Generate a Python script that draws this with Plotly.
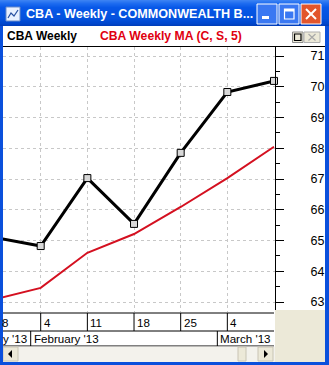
import plotly.graph_objects as go

W, H = 329, 365

# ---- data ----
weeks = ["2013-01-28", "2013-02-04", "2013-02-11", "2013-02-18",
         "2013-02-25", "2013-03-04", "2013-03-11"]
close = [65.10, 64.82, 67.03, 65.54, 67.85, 69.83, 70.19]
ma5 = [63.08, 63.46, 64.60, 65.21, 66.09, 67.03, 68.05]
# labels as visible in the (scrolled) window
week_labels = ["8", "4", "11", "18", "25", "4"]
month_labels = ["y '13", "February '13", "March '13"]
month_breaks = ["2013-02-02 12:00", "2013-03-02 12:00"]
title_text = "CBA - Weekly - COMMONWEALTH B..."
series_name = "CBA Weekly"
ma_name = "CBA Weekly MA (C, S, 5)"

FONT = "Liberation Sans, Arial, sans-serif"


def PX(x):
    return x / W


def PY(y):
    return 1 - y / H


fig = go.Figure()
fig.add_trace(go.Scatter(x=weeks, y=ma5, mode="lines",
                         line=dict(color="#D41020", width=2), name=ma_name))
fig.add_trace(go.Scatter(x=weeks, y=close, mode="lines+markers",
                         line=dict(color="black", width=3),
                         marker=dict(symbol="square", size=7, color="#D8D8D8",
                                     line=dict(color="black", width=1)),
                         cliponaxis=False, name=series_name))

shapes = []
ann = []


def rect(x0, y0, x1, y1, fill, line=None, lw=0, layer="above"):
    shapes.append(dict(type="rect", xref="paper", yref="paper",
                       x0=PX(x0), x1=PX(x1), y0=PY(y1), y1=PY(y0),
                       fillcolor=fill, line=dict(color=line or fill, width=lw),
                       layer=layer))


def seg(x0, y0, x1, y1, color, lw=1, xref="paper"):
    shapes.append(dict(type="line", xref=xref, yref="paper",
                       x0=x0 if xref != "paper" else PX(x0),
                       x1=x1 if xref != "paper" else PX(x1),
                       y0=PY(y0), y1=PY(y1), line=dict(color=color, width=lw),
                       layer="above"))


# ---- header strip ----
rect(0, 26, W, 46, "white")
seg(0, 46.5, 325, 46.5, "black", 1)
ann.append(dict(text="<b>%s</b>" % series_name, x=PX(5), y=PY(36.5), xref="paper",
                yref="paper", xanchor="left", yanchor="middle", showarrow=False,
                font=dict(family=FONT, size=12, color="black")))
ann.append(dict(text="<b>%s</b>" % ma_name, x=PX(98), y=PY(36.5), xref="paper",
                yref="paper", xanchor="left", yanchor="middle", showarrow=False,
                font=dict(family=FONT, size=12.2, color="#E00010")))
# small header buttons
rect(292.5, 32, 303, 42.5, "#ECE9D8", "#8A8A8A", 1)
rect(294.5, 34, 301, 40.5, "rgba(0,0,0,0)", "black", 1.2)
rect(304, 32, 320, 42.5, "#ECE9D8", "#B0B0B0", 1)
seg(308.5, 34, 315.5, 40.5, "#A8A8A8", 1.2)
seg(308.5, 40.5, 315.5, 34, "#A8A8A8", 1.2)

# ---- right axis strip / bottom area ----
rect(275, 310, 325, 362, "#ECE9D8")

# date rows
seg(3, 313, 274, 313, "black", 1)
seg(3, 331, 274, 331, "black", 1)
seg(3, 346, 274, 346, "black", 1)
rect(3, 313.5, 274, 345.5, "white", layer="below")
for i, d in enumerate(weeks[1:6]):
    seg(d, 313, d, 331, "black", 1, xref="x")
for d in month_breaks:
    seg(d, 331, d, 346, "black", 1, xref="x")

# week labels
ann.append(dict(text=week_labels[0], x=weeks[1], y=PY(322), xref="x", yref="paper",
                xanchor="right", yanchor="middle", xshift=-31, showarrow=False,
                font=dict(family=FONT, size=11.6, color="black")))
for lab, d in zip(week_labels[1:], weeks[1:6]):
    ann.append(dict(text=lab, x=d, y=PY(322), xref="x", yref="paper",
                    xanchor="left", yanchor="middle", xshift=1, showarrow=False,
                    font=dict(family=FONT, size=11.6, color="black")))
ann.append(dict(text=month_labels[0], x=month_breaks[0], y=PY(338.5), xref="x",
                yref="paper", xanchor="right", yanchor="middle", xshift=-2,
                showarrow=False, font=dict(family=FONT, size=11.6, color="black")))
ann.append(dict(text=month_labels[1], x=month_breaks[0], y=PY(338.5), xref="x",
                yref="paper", xanchor="left", yanchor="middle", xshift=1,
                showarrow=False, font=dict(family=FONT, size=11.6, color="black")))
ann.append(dict(text=month_labels[2], x=month_breaks[1], y=PY(338.5), xref="x",
                yref="paper", xanchor="left", yanchor="middle", xshift=1,
                showarrow=False, font=dict(family=FONT, size=11.6, color="black")))

# scrollbar
rect(3, 346.5, 275, 362, "#F3F2EC")
rect(3, 347, 18, 361, "#ECE9D8", "#C8C4B4", 1)
shapes.append(dict(type="path", xref="paper", yref="paper",
                   path="M %f %f L %f %f L %f %f Z" % (PX(8), PY(354), PX(12), PY(350), PX(12), PY(358)),
                   fillcolor="black", line=dict(color="black", width=0), layer="above"))
rect(238, 347, 246, 361, "#ECE9D8", "#C8C4B4", 1)
rect(258, 347, 273, 361, "#ECE9D8", "#C8C4B4", 1)
shapes.append(dict(type="path", xref="paper", yref="paper",
                   path="M %f %f L %f %f L %f %f Z" % (PX(268), PY(354), PX(264), PY(350), PX(264), PY(358)),
                   fillcolor="black", line=dict(color="black", width=0), layer="above"))

# ---- window borders ----
rect(0, 0, 3, H, "#0A50DC")
rect(325, 0, W, H, "#0A50DC")
rect(0, 362, W, H, "#0A50DC")

# ---- title bar (gradient bands) ----
stops = [(0, (58, 129, 243)), (3, (30, 108, 240)), (7, (8, 88, 232)),
         (18, (4, 82, 222)), (23, (0, 70, 205)), (26, (0, 58, 180))]
for k in range(len(stops) - 1):
    y0, c0 = stops[k]
    y1, c1 = stops[k + 1]
    n = max(1, y1 - y0)
    for j in range(n):
        t = j / n
        c = tuple(int(c0[m] + (c1[m] - c0[m]) * t) for m in range(3))
        rect(0, y0 + j, W, y0 + j + 1.05, "rgb(%d,%d,%d)" % c)
# icon
rect(6, 7, 20, 21, "#E8F0FF", "#6A8CC8", 1)
shapes.append(dict(type="path", xref="paper", yref="paper",
                   path="M %f %f L %f %f L %f %f L %f %f" % (PX(8), PY(18), PX(11), PY(13), PX(14), PY(16), PX(18), PY(10)),
                   line=dict(color="#2850A0", width=1.2), layer="above"))
ann.append(dict(text="<b>%s</b>" % title_text, x=PX(24), y=PY(13.5), xref="paper",
                yref="paper", xanchor="left", yanchor="middle", showarrow=False,
                font=dict(family=FONT, size=12.6, color="white")))
# title buttons
for bx in (257, 279):
    shapes.append(dict(type="rect", xref="paper", yref="paper", x0=PX(bx), x1=PX(bx + 20),
                       y0=PY(24), y1=PY(4), fillcolor="#3A78F2",
                       line=dict(color="white", width=1), layer="above"))
rect(262, 16, 269, 19, "white")
rect(284.5, 9, 294, 19, "rgba(0,0,0,0)", "white", 1.2)
rect(284.5, 9, 294, 11.5, "white")
shapes.append(dict(type="rect", xref="paper", yref="paper", x0=PX(301), x1=PX(321),
                   y0=PY(24), y1=PY(4), fillcolor="#E2552C",
                   line=dict(color="white", width=1), layer="above"))
seg(306, 9, 316, 19, "white", 2)
seg(306, 19, 316, 9, "white", 2)

fig.update_layout(
    width=W, height=H, autosize=False,
    margin=dict(l=0, r=0, t=0, b=0, pad=0),
    paper_bgcolor="white", plot_bgcolor="white",
    showlegend=False,
    shapes=shapes, annotations=ann,
    xaxis=dict(type="date", domain=[PX(3), PX(275)],
               range=["2013-01-29 08:17", "2013-03-11 03:36"],
               tick0="2013-02-04", dtick=7 * 86400000,
               showticklabels=False, ticks="", showline=False, zeroline=False,
               showgrid=True, gridcolor="#C8C8C8", griddash="3px,3px", gridwidth=1),
    yaxis=dict(domain=[PY(312), PY(47)], range=[62.675, 71.293], side="right",
               anchor="x", tick0=0, dtick=1, ticks="outside", ticklen=8,
               tickcolor="black", tickwidth=1, showline=True, linecolor="black",
               linewidth=1, mirror=False, zeroline=False,
               showgrid=True, gridcolor="#C8C8C8", griddash="3px,3px", gridwidth=1,
               tickfont=dict(family=FONT, size=12.5, color="black"),
               ticklabelstandoff=24,
               minor=dict(dtick=0.5, ticks="outside", ticklen=4, tickcolor="black",
                          tickwidth=1, showgrid=False)),
)

fig.write_html("out.html")
